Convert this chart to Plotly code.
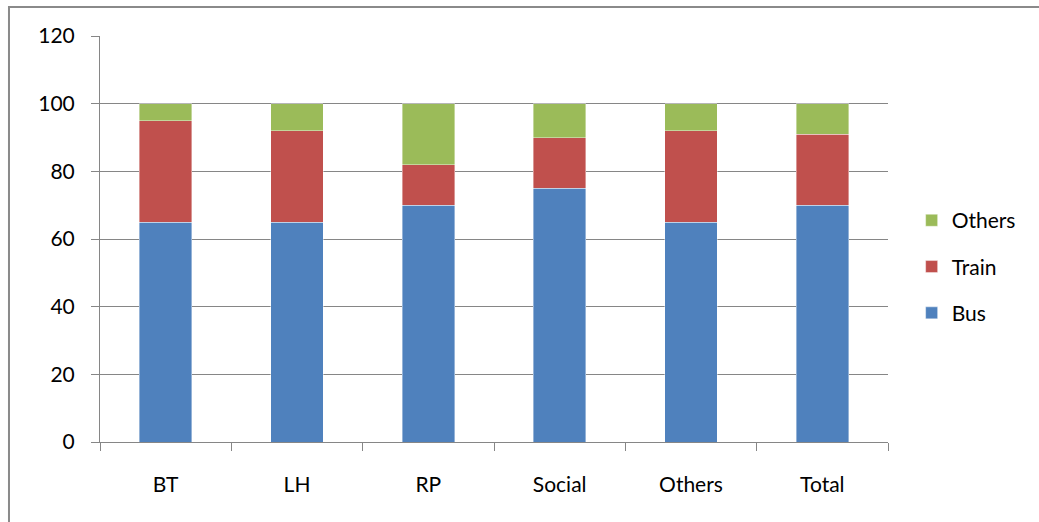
import plotly.graph_objects as go

categories = ["BT", "LH", "RP", "Social", "Others", "Total"]
bus = [65, 65, 70, 75, 65, 70]
train = [30, 27, 12, 15, 27, 21]
others = [5, 8, 18, 10, 8, 9]

font_family = "Lato, 'Open Sans', sans-serif"
grey = "#868686"

fig = go.Figure()
for rank, (name, vals, color) in enumerate([
    ("Bus", bus, "#4F81BD"),
    ("Train", train, "#C0504D"),
    ("Others", others, "#9BBB59"),
]):
    fig.add_trace(
        go.Bar(
            name=name,
            x=categories,
            y=vals,
            legendgroup=name,
            legendrank=1000 - rank,
            marker=dict(color=color, line=dict(color="rgba(255,255,255,0.5)", width=0.8)),
        )
    )

fig.update_layout(
    width=1039,
    height=522,
    barmode="stack",
    bargap=0.6,
    plot_bgcolor="white",
    paper_bgcolor="white",
    margin=dict(l=100, r=151, t=36, b=80),
    font=dict(family=font_family, size=21, color="black"),
    legend=dict(
        traceorder="grouped",
        tracegroupgap=16,
        x=1.03,
        y=0.432,
        yanchor="middle",
        xanchor="left",
        font=dict(size=21),
    ),
    shapes=[
        dict(
            type="rect",
            xref="paper",
            yref="paper",
            x0=-0.1155,
            x1=1.4,
            y0=-0.4,
            y1=1.0714,
            line=dict(color="#8a8a8a", width=2),
            layer="below",
        )
    ],
)
fig.update_yaxes(
    range=[0, 120],
    dtick=20,
    showgrid=True,
    gridcolor=grey,
    gridwidth=1,
    showline=True,
    linecolor=grey,
    linewidth=1,
    ticks="outside",
    ticklen=8,
    tickcolor=grey,
    zeroline=False,
    tickfont=dict(size=21),
    ticklabelstandoff=12,
)
fig.update_xaxes(
    showline=True,
    linecolor=grey,
    linewidth=1,
    ticks="outside",
    tickson="boundaries",
    ticklen=8,
    tickcolor=grey,
    tickfont=dict(size=21),
    ticklabelstandoff=24,
)

fig.write_html(
    "out.html",
    config={"displayModeBar": False},
    post_script="document.body.style.margin='0';",
)
